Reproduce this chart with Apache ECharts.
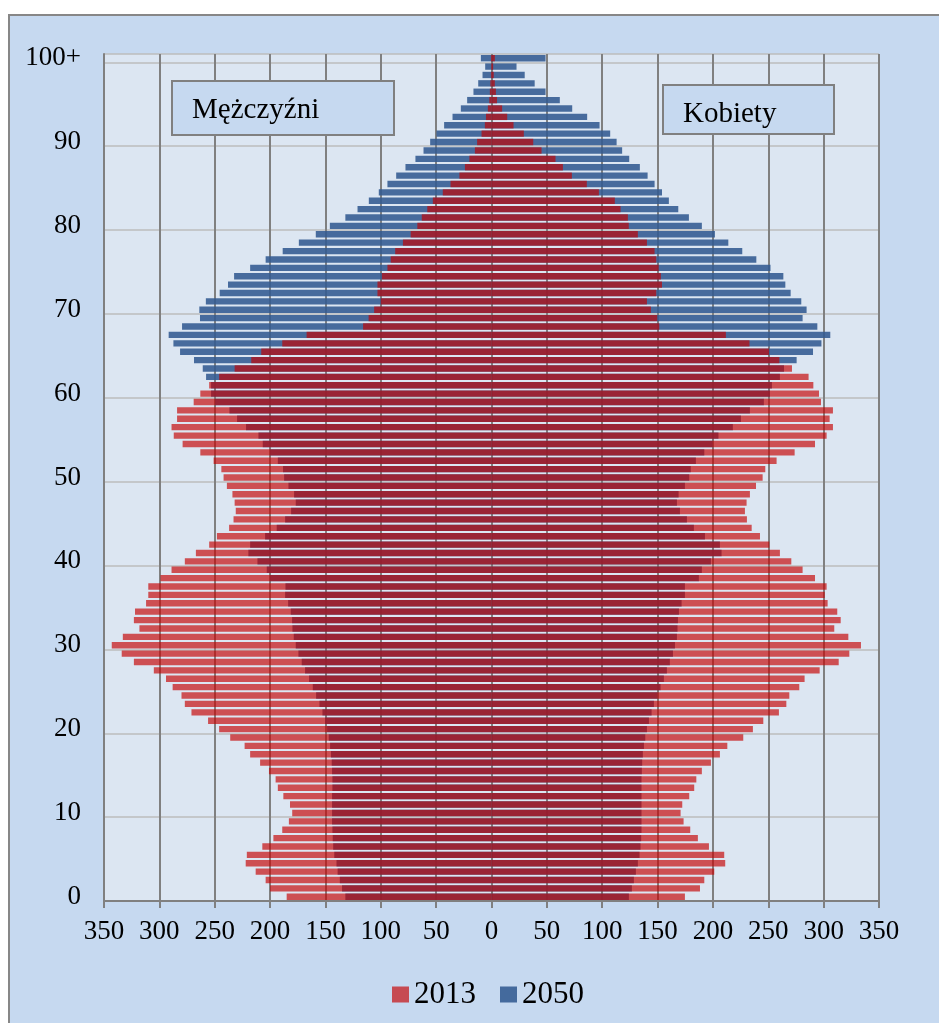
<!DOCTYPE html>
<html>
<head>
<meta charset="utf-8">
<script src="https://cdn.jsdelivr.net/npm/echarts@6/dist/echarts.min.js"></script>
<style>
  html, body { margin: 0; padding: 0; background: #ffffff; width: 939px; height: 1023px; overflow: hidden; }
  #frame { position: absolute; left: 8px; top: 14px; width: 940px; height: 1020px;
           background: #C6D9F0; border-left: 2px solid #878787; border-top: 2px solid #878787; }
  #chart { position: absolute; left: 0; top: 0; width: 939px; height: 1023px; }
</style>
</head>
<body>
<div id="frame"></div>
<div id="chart"></div>
<script>
// Age groups 0..99 and 100+
const ages = [];
for (let a = 0; a < 100; a++) ages.push(String(a));
ages.push('100+');

// Population in thousands, index = age
const male2013 = [
  185, 200, 204, 213, 222, 221, 207, 197, 189, 183,
  180, 182, 188, 193, 195, 201, 209, 218, 223, 236,
  246, 256, 271, 277, 280, 288, 294, 305, 323, 334,
  343, 333, 318, 323, 322, 312, 310, 310, 299, 289,
  277, 267, 255, 248, 237, 233, 231, 232, 234, 239,
  242, 244, 251, 263, 279, 287, 289, 284, 284, 269,
  263, 255, 246, 232, 217, 208, 189, 167, 116, 111,
  106, 100, 103, 103, 99, 94, 91, 87, 80, 73,
  67, 63, 58, 53, 44, 37, 29, 24, 20, 15,
  13, 9, 6, 5, 3.3, 2, 1.5, 1, 0.5, 0.3,
  0.5
];
const male2050 = [
  132, 135, 137, 139, 140, 142, 143, 143.4, 143.7, 144,
  144, 144, 144, 143.7, 143.7, 144, 144.3, 145, 145.8, 147,
  148.5, 150.3, 152.7, 155.4, 158.4, 161.4, 164.8, 168.4, 171.4, 174.4,
  176.8, 178.6, 179.8, 180.1, 181.3, 183.7, 186.4, 186.1, 200, 203,
  211.4, 219.6, 218, 204.5, 194, 186.4, 181, 176.8, 178.3, 183.4,
  187.3, 188.3, 193, 200, 206.6, 210.5, 221.7, 229.8, 236.7, 249.7,
  253.3, 253.3, 257.8, 260.8, 268.7, 281.3, 287.3, 291.6, 279.5, 263.3,
  263.9, 258, 245.5, 238, 232.5, 218, 204, 188.6, 174, 158.7,
  146, 132, 121, 110.8, 101.8, 94, 86.1, 77.7, 68.7, 61.4,
  55.4, 49.7, 42.8, 35.2, 27.7, 22, 16.3, 12, 8.1, 5.7,
  9.6
];
const female2013 = [
  174.7, 188.3, 192.2, 201.2, 211.1, 210.2, 196.4, 186.4, 179.5, 173.5,
  170.8, 172.3, 178.6, 183.1, 185, 190, 198.2, 206.3, 213, 227.4,
  236.1, 245.5, 259.6, 266.3, 269, 278, 282.8, 296.4, 313.6, 323.2,
  333.7, 322.3, 309.6, 315.4, 312.3, 303.6, 301, 302.7, 292.2, 281,
  270.8, 260.5, 251, 242.5, 235, 230.7, 228.9, 230.4, 233.4, 238.9,
  244.9, 247.3, 257.5, 273.8, 292.2, 302.7, 308.4, 305.4, 308.4, 297.6,
  295.8, 290.7, 286.4, 271.4, 260, 250.6, 233, 211.7, 151.5, 149.7,
  144, 140.4, 148.8, 154, 153, 151, 148.8, 147.3, 140.4, 132.2,
  124, 123.2, 116.6, 111.4, 97, 86.1, 72.6, 64.5, 57.8, 45.2,
  37.7, 29.2, 19.9, 14.2, 9.6, 5, 4, 3, 2, 1.5,
  3
];
const female2050 = [
  124.1, 126.8, 128.6, 130.4, 132.2, 133.7, 134.6, 135.2, 135.5, 135.5,
  135.5, 135.5, 135.5, 135.5, 135.5, 135.8, 136.1, 136.7, 137.7, 138.9,
  140.4, 142.2, 144.6, 146.7, 150, 152.7, 155.7, 158.4, 161.1, 163.9,
  165.7, 167.5, 168, 168.4, 169.3, 171.7, 174.7, 174.7, 187.3, 190,
  198.2, 207.8, 206.3, 192.8, 182.8, 176.5, 170.2, 167.5, 169, 174.7,
  178.6, 180, 184.6, 192.2, 199.7, 205, 218, 225.3, 233.4, 246,
  251.5, 253.3, 260.5, 264.2, 275.6, 290.4, 298, 306, 294.3, 281,
  284.6, 279.8, 270.2, 265.4, 263.6, 252, 239.2, 226.5, 213.9, 201.8,
  190, 178.3, 168.7, 160.2, 154, 147.3, 141, 134, 124.4, 118,
  113, 107.2, 97.6, 86.4, 72.9, 61.7, 48.8, 39, 30, 22.6,
  48.8
];

const FONT = '"Liberation Serif", "Times New Roman", serif';
const BLUE = 'rgba(50, 90, 145, 0.88)';
const RED = 'rgba(197, 0, 0, 0.66)';

const barCommon = { type: 'bar', barCategoryGap: '24%', barGap: '-100%', animation: false };

const chart = echarts.init(document.getElementById('chart'), null, { renderer: 'canvas' });
chart.setOption({
  backgroundColor: 'transparent',
  animation: false,
  grid: { left: 104, right: 60, top: 54, bottom: 122, show: true,
          backgroundColor: '#DCE6F2', borderWidth: 0 },
  xAxis: {
    type: 'value', min: -350, max: 350, interval: 50,
    axisLine: { show: true, onZero: false, lineStyle: { color: '#808080', width: 2 } },
    axisTick: { show: true, length: 7, lineStyle: { color: '#808080', width: 2 } },
    axisLabel: { formatter: v => String(Math.abs(v)), fontFamily: FONT, fontSize: 27,
                 color: '#000', margin: 17 },
    splitLine: { show: true, lineStyle: { color: '#808080', width: 2 } }
  },
  yAxis: {
    type: 'category', data: ages, boundaryGap: true,
    axisLine: { show: true, onZero: false, lineStyle: { color: '#808080', width: 2 } },
    axisTick: { show: false },
    axisLabel: { interval: 9, fontFamily: FONT, fontSize: 27, color: '#000', margin: 23 },
    splitLine: { show: true, interval: 9, lineStyle: { color: '#BDBDBD', width: 1.5 } }
  },
  legend: {
    data: ['2013', '2050'], left: 387, top: 974, icon: 'rect',
    itemWidth: 17, itemHeight: 16, itemGap: 24,
    textStyle: { fontFamily: FONT, fontSize: 31, color: '#000' }
  },
  series: [
    Object.assign({ name: '2050', data: male2050.map(v => -v), itemStyle: { color: BLUE } }, barCommon),
    Object.assign({ name: '2050', data: female2050, itemStyle: { color: BLUE } }, barCommon),
    Object.assign({ name: '2013', data: male2013.map(v => -v), itemStyle: { color: RED } }, barCommon),
    Object.assign({ name: '2013', data: female2013, itemStyle: { color: RED } }, barCommon)
  ],
  graphic: [
    { type: 'rect', z: 100, shape: { x: 172, y: 81, width: 222, height: 54 },
      style: { fill: '#C6D9F0', stroke: '#808080', lineWidth: 2 } },
    { type: 'text', z: 101, x: 192, y: 110,
      style: { text: 'Mężczyźni', fontFamily: FONT, fontSize: 29, fill: '#000', verticalAlign: 'middle' } },
    { type: 'rect', z: 100, shape: { x: 663, y: 85, width: 171, height: 49 },
      style: { fill: '#C6D9F0', stroke: '#808080', lineWidth: 2 } },
    { type: 'text', z: 101, x: 683, y: 114,
      style: { text: 'Kobiety', fontFamily: FONT, fontSize: 29, fill: '#000', verticalAlign: 'middle' } }
  ]
});
</script>
</body>
</html>
